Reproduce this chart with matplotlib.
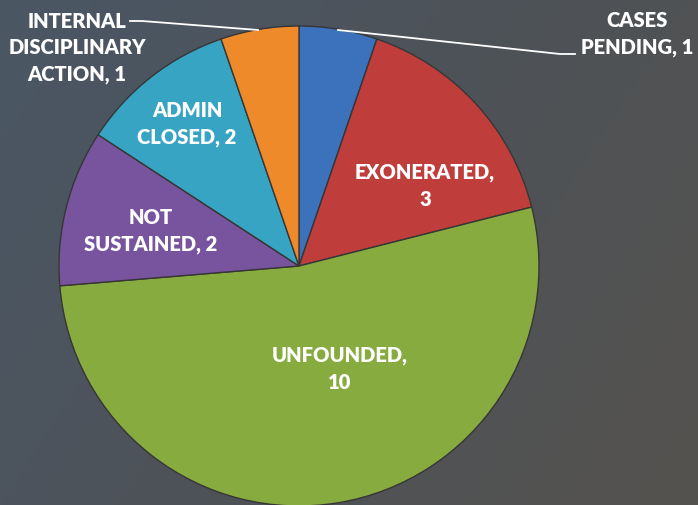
import numpy as np
import matplotlib
matplotlib.use("Agg")
import matplotlib.pyplot as plt
from matplotlib.colors import LinearSegmentedColormap

categories = ["CASES\nPENDING", "EXONERATED", "UNFOUNDED", "NOT\nSUSTAINED",
              "ADMIN\nCLOSED", "INTERNAL\nDISCIPLINARY\nACTION"]
values = [1, 3, 10, 2, 2, 1]
label_texts = ["CASES\nPENDING, 1", "EXONERATED,\n3", "UNFOUNDED,\n10",
               "NOT\nSUSTAINED, 2", "ADMIN\nCLOSED, 2",
               "INTERNAL\nDISCIPLINARY\nACTION, 1"]
colors = ["#3c71bb", "#bf3e3b", "#88ab40", "#77549d", "#37a4c3", "#ef8a2b"]

W, H = 698, 506
fig = plt.figure(figsize=(W / 100, H / 100), dpi=100)

# background gradient
bg = fig.add_axes([0, 0, 1, 1])
bg.set_axis_off()
yy, xx = np.mgrid[0:1:200j, 0:1:300j]
t = np.clip(0.75 * xx + 0.35 * yy - 0.1, 0, 1)
cmap = LinearSegmentedColormap.from_list("bg", ["#4b5663", "#4e5257", "#55534f"])
bg.imshow(t, cmap=cmap, aspect="auto", extent=[0, 1, 0, 1], origin="upper")
bg.set_xlim(0, 1)
bg.set_ylim(0, 1)

cx, cy, r = 299, 267, 240
ax = fig.add_axes([(cx - r) / W, (H - cy - r) / H, 2 * r / W, 2 * r / H])
ax.set_axis_off()
wedges, _ = ax.pie(values, colors=colors, startangle=90, counterclock=False,
                   radius=1.0,
                   wedgeprops=dict(edgecolor="#363636", linewidth=1.0))
ax.set_xlim(-1, 1)
ax.set_ylim(-1, 1)
ax.set_aspect("equal")

def d(px, py):
    return ((px - cx) / r, (cy - py) / r)

font = dict(family=["Lato", "DejaVu Sans"], fontweight="heavy", fontsize=14.5,
            color="white", ha="center", va="center", linespacing=1.45)

pos = [d(637, 34), d(425, 186), d(340, 369), d(151, 231), d(187, 124), d(77, 48)]
for txt, (x, y) in zip(label_texts, pos):
    ax.text(x, y, txt, **font, zorder=5, clip_on=False)

# leader lines
lx = [d(130, 22)[0], d(142, 22)[0], d(258, 31)[0]]
ly = [d(130, 22)[1], d(142, 22)[1], d(258, 31)[1]]
ax.plot(lx, ly, color="white", lw=1.3, clip_on=False, zorder=4)
rx = [d(338, 31)[0], d(560, 55)[0], d(575, 55)[0]]
ry = [d(338, 31)[1], d(560, 55)[1], d(575, 55)[1]]
ax.plot(rx, ry, color="white", lw=1.3, clip_on=False, zorder=4)

fig.savefig("out.png", dpi=100)
